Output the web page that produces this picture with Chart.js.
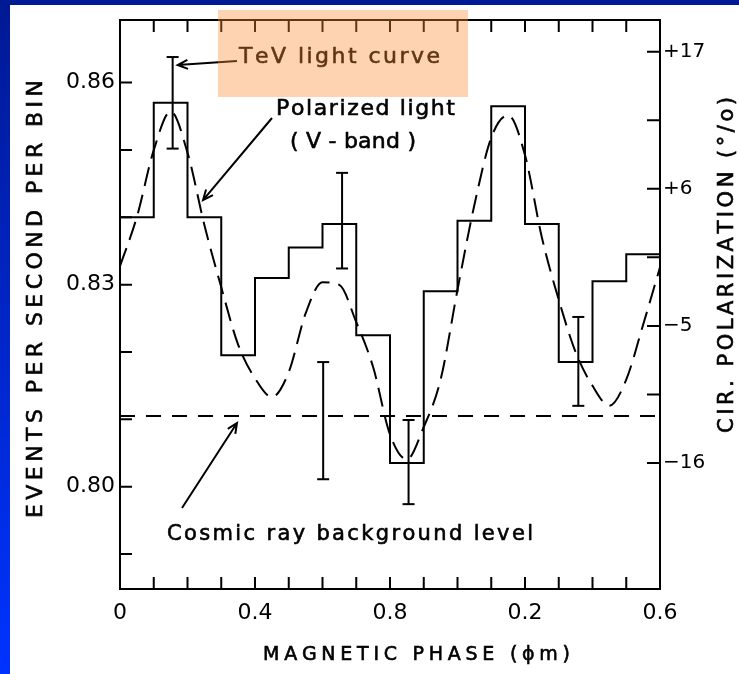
<!DOCTYPE html>
<html>
<head>
<meta charset="utf-8">
<title>TeV light curve and polarization</title>
<script src="https://cdn.jsdelivr.net/npm/chart.js@4/dist/chart.umd.min.js"></script>
<style>
  html, body { margin: 0; padding: 0; background: #fff; }
  body { width: 739px; height: 674px; position: relative; overflow: hidden; }
  #topbar { position: absolute; left: 0; top: 0; width: 739px; height: 5px; background: #001994; }
  #leftbar { position: absolute; left: 0; top: 0; width: 10px; height: 674px; background: linear-gradient(#001994, #0033ff); }
  #wrap { position: absolute; left: 0; top: 0; width: 739px; height: 674px; }
</style>
</head>
<body>
<div id="topbar"></div>
<div id="leftbar"></div>
<div id="wrap"><canvas id="chart" width="739" height="674"></canvas></div>
<script>
// TeV light curve (histogram, left axis) + V-band circular polarization (dashed, right axis)

// Histogram bins: left edge of each 0.1-wide phase bin and its rate
const binStart = [0, 0.1, 0.2, 0.3, 0.4, 0.5, 0.6, 0.7, 0.8, 0.9, 1.0, 1.1, 1.2, 1.3, 1.4, 1.5];
const binEnd = 1.6;
const rate = [0.840, 0.857, 0.840, 0.8195, 0.831, 0.8355, 0.839, 0.8225,
              0.8035, 0.829, 0.8395, 0.8565, 0.839, 0.8185, 0.8305, 0.8345];

// Error bars on the light curve
const errPhase = [0.156, 0.602, 0.658, 0.855, 1.358];
const errLow   = [0.8502, 0.8011, 0.8324, 0.7974, 0.8120];
const errHigh  = [0.8638, 0.8185, 0.8466, 0.8099, 0.8252];

// Polarized light (V-band), percent
const polPhase = [0, 0.05, 0.1, 0.15, 0.2, 0.25, 0.3, 0.35, 0.4, 0.45, 0.5, 0.55, 0.6, 0.65, 0.7, 0.75,
                  0.8, 0.85, 0.9, 0.95, 1.0, 1.05, 1.1, 1.15, 1.2, 1.25, 1.3, 1.35, 1.4, 1.45, 1.5, 1.55, 1.6];
const polPercent = [-0.2, 3.75, 9.1, 12.2, 8.9, 3.1, -1.9, -6.5, -9.2, -10.7, -8.7, -4.0, -1.5, -1.7, -4.7, -8.3,
                    -13.7, -15.7, -13.1, -9.3, -2.1, 4.7, 10.1, 11.9, 8.7, 2.1, -2.9, -7.1, -9.8, -11.4, -9.3, -4.9, -0.3];

// Cosmic ray background level
const background = 0.8105;

// Axis ticks
const xTickValues = [0, 0.4, 0.8, 1.2, 1.6];
const xTickLabels = ['0', '0.4', '0.8', '0.2', '0.6'];
const xMinorTicks = [0.1, 0.2, 0.3, 0.4, 0.5, 0.6, 0.7, 0.8, 0.9, 1.0, 1.1, 1.2, 1.3, 1.4, 1.5];
const yTickValues = [0.80, 0.83, 0.86];
const yTickLabels = ['0.80', '0.83', '0.86'];
const yMinorTicks = [0.79, 0.80, 0.81, 0.82, 0.83, 0.84, 0.85, 0.86];
const y2TickValues = [17, 6, -5, -16];
const y2TickLabels = ['+17', '+6', '\u22125', '\u221216'];
const y2MinorTicks = [17, 11.5, 6, 0.5, -5, -10.5, -16];

const FONT = '"DejaVu Sans", "Liberation Sans", sans-serif';

// Draw text char by char so it fills a given width (the original lettering is widely spaced)
function spacedText(ctx, text, x, y, width, size) {
  ctx.font = `${size}px ${FONT}`;
  ctx.lineWidth = 0.6;
  const chars = [...text];
  const widths = chars.map((c) => ctx.measureText(c).width);
  const total = widths.reduce((s, w) => s + w, 0);
  const gap = chars.length > 1 ? (width - total) / (chars.length - 1) : 0;
  let cx = x;
  chars.forEach((c, i) => {
    ctx.fillText(c, cx, y);
    ctx.strokeText(c, cx, y);
    cx += widths[i] + gap;
  });
}

function arrow(ctx, x1, y1, x2, y2) {
  const a = Math.atan2(y2 - y1, x2 - x1);
  const len = 11;
  ctx.lineWidth = 2;
  ctx.beginPath();
  ctx.moveTo(x1, y1);
  ctx.lineTo(x2, y2);
  ctx.moveTo(x2 - len * Math.cos(a - 0.42), y2 - len * Math.sin(a - 0.42));
  ctx.lineTo(x2, y2);
  ctx.lineTo(x2 - len * Math.cos(a + 0.42), y2 - len * Math.sin(a + 0.42));
  ctx.stroke();
}

const decor = {
  id: 'decor',
  afterDatasetsDraw(chart) {
    const { ctx, chartArea: a } = chart;
    const { x, y, y2 } = chart.scales;
    ctx.save();
    ctx.strokeStyle = '#000';
    ctx.fillStyle = '#000';
    ctx.lineWidth = 2;
    ctx.setLineDash([]);

    // frame + inward ticks
    ctx.strokeRect(a.left, a.top, a.right - a.left, a.bottom - a.top);
    ctx.beginPath();
    xMinorTicks.forEach((v) => {
      const px = x.getPixelForValue(v);
      ctx.moveTo(px, a.bottom); ctx.lineTo(px, a.bottom - 12);
      ctx.moveTo(px, a.top); ctx.lineTo(px, a.top + 12);
    });
    yMinorTicks.forEach((v) => {
      const py = y.getPixelForValue(v);
      ctx.moveTo(a.left, py); ctx.lineTo(a.left + 12, py);
    });
    y2MinorTicks.forEach((v) => {
      const py = y2.getPixelForValue(v);
      ctx.moveTo(a.right, py); ctx.lineTo(a.right - 13, py);
    });
    ctx.stroke();

    // annotations
    ctx.textBaseline = 'alphabetic';
    ctx.textAlign = 'left';
    spacedText(ctx, 'TeV light curve', 239, 63, 201, 22);
    spacedText(ctx, 'Polarized light', 276, 115, 179, 22);
    spacedText(ctx, '( V - band )', 290, 148, 126, 22);
    spacedText(ctx, 'Cosmic ray background level', 167, 540, 366, 21);

    arrow(ctx, 237, 61, x.getPixelForValue(errPhase[0]) + 5, y.getPixelForValue(errHigh[0]) + 8);
    arrow(ctx, 272, 118, x.getPixelForValue(0.246), y2.getPixelForValue(5.1));
    arrow(ctx, 182, 508, 237, y.getPixelForValue(background) + 7);

    // axis titles
    spacedText(ctx, 'MAGNETIC PHASE (\u03D5m)', 263, 660, 307, 19);

    ctx.save();
    ctx.translate(42, 299);
    ctx.rotate(-Math.PI / 2);
    spacedText(ctx, 'EVENTS PER SECOND PER BIN', -219, 0, 438, 22);
    ctx.restore();

    ctx.save();
    ctx.translate(733, 265);
    ctx.rotate(-Math.PI / 2);
    spacedText(ctx, 'CIR. POLARIZATION (\u00B0/o)', -168, 0, 336, 21);
    ctx.restore();

    ctx.restore();
  },
  afterDraw(chart) {
    // translucent highlight over the "TeV light curve" label
    const { ctx } = chart;
    ctx.save();
    ctx.fillStyle = 'rgba(250, 140, 50, 0.38)';
    ctx.fillRect(218, 10, 250, 87);
    ctx.restore();
  },
};

const histData = binStart.map((p, i) => ({ x: p, y: rate[i] }));
histData.push({ x: binEnd, y: rate[rate.length - 1] });

const errData = [];
errPhase.forEach((p, i) => {
  errData.push({ x: p, y: errLow[i] }, { x: p, y: errHigh[i] }, { x: p, y: null });
});

const tickFont = { family: FONT, size: 22 };

new Chart(document.getElementById('chart'), {
  type: 'line',
  data: {
    datasets: [
      {
        label: 'TeV light curve',
        data: histData,
        stepped: true,
        borderColor: '#000',
        borderWidth: 2,
        pointRadius: 0,
        yAxisID: 'y',
      },
      {
        label: 'Polarized light (V-band)',
        data: polPhase.map((p, i) => ({ x: p, y: polPercent[i] })),
        borderColor: '#000',
        borderWidth: 2,
        borderDash: [19, 9],
        cubicInterpolationMode: 'monotone',
        pointRadius: 0,
        yAxisID: 'y2',
      },
      {
        label: 'Cosmic ray background level',
        data: [{ x: 0, y: background }, { x: binEnd, y: background }],
        borderColor: '#000',
        borderWidth: 2,
        borderDash: [15, 11],
        pointRadius: 0,
        yAxisID: 'y',
      },
      {
        label: 'errors',
        data: errData,
        borderColor: '#000',
        borderWidth: 2,
        spanGaps: false,
        pointStyle: 'line',
        pointRadius: 6,
        pointBorderWidth: 2,
        pointBorderColor: '#000',
        yAxisID: 'y',
      },
    ],
  },
  options: {
    responsive: false,
    animation: false,
    events: [],
    layout: { padding: { top: 20, left: 0, right: 0, bottom: 0 } },
    plugins: { legend: { display: false }, tooltip: { enabled: false } },
    scales: {
      x: {
        type: 'linear',
        position: 'bottom',
        min: 0,
        max: 1.6,
        bounds: 'data',
        afterBuildTicks: (s) => { s.ticks = xTickValues.map((v) => ({ value: v })); },
        afterFit: (s) => { s.height = 85; },
        ticks: {
          callback: (v, i) => xTickLabels[i],
          font: tickFont,
          color: '#000',
          padding: 11,
          maxRotation: 0,
          autoSkip: false,
        },
        grid: { display: false, drawTicks: false },
        border: { display: false },
      },
      y: {
        type: 'linear',
        position: 'left',
        min: 0.7848,
        max: 0.8693,
        bounds: 'data',
        afterBuildTicks: (s) => { s.ticks = yTickValues.map((v) => ({ value: v })); },
        afterFit: (s) => { s.width = 120; },
        ticks: {
          callback: (v, i) => yTickLabels[i],
          font: tickFont,
          color: '#000',
          padding: 5,
          autoSkip: false,
        },
        grid: { display: false, drawTicks: false },
        border: { display: false },
      },
      y2: {
        type: 'linear',
        position: 'right',
        min: -26.1,
        max: 19.54,
        bounds: 'data',
        afterBuildTicks: (s) => { s.ticks = y2TickValues.map((v) => ({ value: v })); },
        afterFit: (s) => { s.width = 79; },
        ticks: {
          callback: (v, i) => y2TickLabels[i],
          font: { family: FONT, size: 20 },
          color: '#000',
          padding: 3,
          autoSkip: false,
        },
        grid: { display: false, drawTicks: false },
        border: { display: false },
      },
    },
  },
  plugins: [decor],
});
</script>
</body>
</html>
